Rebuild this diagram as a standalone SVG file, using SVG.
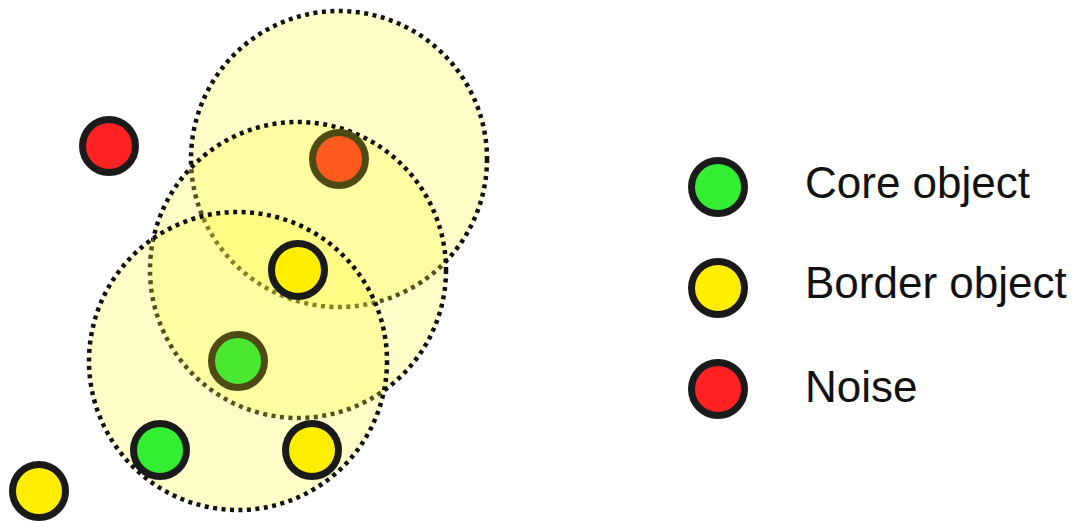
<svg xmlns="http://www.w3.org/2000/svg" width="1078" height="521" viewBox="0 0 1078 521">
  <style>
    .region { fill: #FFFA3C; fill-opacity: 0.28; stroke: #111; stroke-width: 4.5; stroke-dasharray: 4 4.5; }
    .pt { stroke: #1a1a1a; stroke-width: 7; }
    .dim { stroke: #4d4a14; }
    .core { fill: #33EE33; }
    .border { fill: #FFEE00; }
    .noise { fill: #FF2222; }
    .label { font-family: "Liberation Sans", Arial, sans-serif; font-size: 44px; fill: #111; }
  </style>
  <rect width="1078" height="521" fill="#fff"/>
  <g id="regions">
    <circle id="region-top" class="region" cx="339" cy="159" r="148"/>
    <circle id="region-mid" class="region" cx="298" cy="270" r="148"/>
    <circle id="region-bottom" class="region" cx="238" cy="361" r="149"/>
  </g>
  <g id="p-orange"><circle class="pt dim" cx="339" cy="159" r="26.5" fill="#FF5A1E"/></g>
  <g id="p-yellow-mid"><circle class="pt border" cx="298" cy="270" r="26.5"/></g>
  <g id="p-green-mid"><circle class="pt dim" cx="238" cy="361" r="26.5" fill="#4AE830"/></g>
  <g id="p-green-low"><circle class="pt core" cx="160" cy="450" r="26.5"/></g>
  <g id="p-yellow-low"><circle class="pt border" cx="312" cy="450" r="26.5"/></g>
  <g id="p-noise"><circle class="pt noise" cx="109" cy="146" r="26.5"/></g>
  <g id="p-yellow-out"><circle class="pt border" cx="39" cy="491" r="26.5"/></g>
  <g id="legend">
    <g id="legend-core"><circle class="pt core" cx="718" cy="187" r="26.5"/><text class="label" x="805" y="198">Core object</text></g>
    <g id="legend-border"><circle class="pt border" cx="718" cy="288" r="26.5"/><text class="label" x="805" y="298">Border object</text></g>
    <g id="legend-noise"><circle class="pt noise" cx="718" cy="389" r="26.5"/><text class="label" x="805" y="402">Noise</text></g>
  </g>
</svg>
